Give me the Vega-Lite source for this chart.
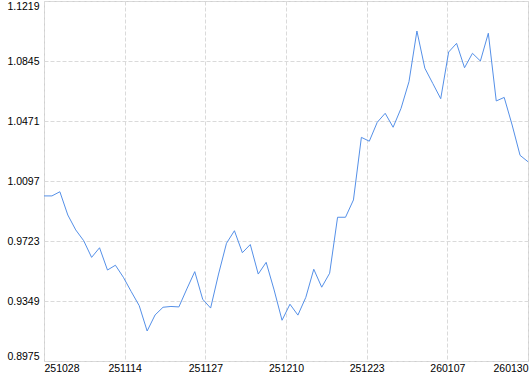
{
  "$schema": "https://vega.github.io/schema/vega-lite/v6.json",
  "autosize": {"type": "none"},
  "padding": {"left": 44, "top": 1, "right": 2, "bottom": 13},
  "width": 484,
  "height": 360,
  "background": "white",
  "config": {
    "view": {"stroke": "#cfcfcf", "strokeWidth": 1},
    "axis": {
      "labelFont": "Liberation Sans",
      "labelFontSize": 10.5,
      "labelColor": "#000000",
      "domain": false,
      "ticks": false,
      "grid": true,
      "gridColor": "#dadada",
      "gridDash": [4, 2],
      "gridWidth": 1,
      "title": null
    }
  },
  "data": {
    "values": [
      {"n": 0, "date": "251028", "v": 1.0004},
      {"n": 1, "date": "251029", "v": 1.0004},
      {"n": 2, "date": "251030", "v": 1.0030},
      {"n": 3, "date": "251031", "v": 0.9885},
      {"n": 4, "date": "251103", "v": 0.9792},
      {"n": 5, "date": "251104", "v": 0.9725},
      {"n": 6, "date": "251105", "v": 0.9621},
      {"n": 7, "date": "251106", "v": 0.9681},
      {"n": 8, "date": "251107", "v": 0.9542},
      {"n": 9, "date": "251110", "v": 0.9572},
      {"n": 10, "date": "251112", "v": 0.9497},
      {"n": 11, "date": "251114", "v": 0.9407},
      {"n": 12, "date": "251117", "v": 0.9320},
      {"n": 13, "date": "251118", "v": 0.9162},
      {"n": 14, "date": "251119", "v": 0.9262},
      {"n": 15, "date": "251120", "v": 0.9310},
      {"n": 16, "date": "251121", "v": 0.9315},
      {"n": 17, "date": "251124", "v": 0.9312},
      {"n": 18, "date": "251125", "v": 0.9424},
      {"n": 19, "date": "251126", "v": 0.9532},
      {"n": 20, "date": "251127", "v": 0.9360},
      {"n": 21, "date": "251128", "v": 0.9305},
      {"n": 22, "date": "251201", "v": 0.9517},
      {"n": 23, "date": "251202", "v": 0.9709},
      {"n": 24, "date": "251203", "v": 0.9787},
      {"n": 25, "date": "251204", "v": 0.9650},
      {"n": 26, "date": "251205", "v": 0.9701},
      {"n": 27, "date": "251208", "v": 0.9517},
      {"n": 28, "date": "251209", "v": 0.9590},
      {"n": 29, "date": "251210", "v": 0.9418},
      {"n": 30, "date": "251211", "v": 0.9229},
      {"n": 31, "date": "251212", "v": 0.9329},
      {"n": 32, "date": "251215", "v": 0.9261},
      {"n": 33, "date": "251216", "v": 0.9372},
      {"n": 34, "date": "251217", "v": 0.9547},
      {"n": 35, "date": "251218", "v": 0.9435},
      {"n": 36, "date": "251219", "v": 0.9522},
      {"n": 37, "date": "251222", "v": 0.9871},
      {"n": 38, "date": "251223", "v": 0.9871},
      {"n": 39, "date": "251224", "v": 0.9979},
      {"n": 40, "date": "251225", "v": 1.0369},
      {"n": 41, "date": "251226", "v": 1.0345},
      {"n": 42, "date": "251229", "v": 1.0463},
      {"n": 43, "date": "251230", "v": 1.0519},
      {"n": 44, "date": "251231", "v": 1.0432},
      {"n": 45, "date": "260102", "v": 1.0550},
      {"n": 46, "date": "260105", "v": 1.0716},
      {"n": 47, "date": "260106", "v": 1.1032},
      {"n": 48, "date": "260107", "v": 1.0800},
      {"n": 49, "date": "260108", "v": 1.0705},
      {"n": 50, "date": "260109", "v": 1.0610},
      {"n": 51, "date": "260112", "v": 1.0901},
      {"n": 52, "date": "260113", "v": 1.0955},
      {"n": 53, "date": "260114", "v": 1.0803},
      {"n": 54, "date": "260115", "v": 1.0893},
      {"n": 55, "date": "260116", "v": 1.0845},
      {"n": 56, "date": "260119", "v": 1.1018},
      {"n": 57, "date": "260120", "v": 1.0596},
      {"n": 58, "date": "260121", "v": 1.0618},
      {"n": 59, "date": "260123", "v": 1.0446},
      {"n": 60, "date": "260127", "v": 1.0257},
      {"n": 61, "date": "260130", "v": 1.0217}
    ]
  },
  "mark": {"type": "line", "color": "#5590e8", "strokeWidth": 1, "clip": true},
  "encoding": {
    "x": {
      "field": "n",
      "type": "quantitative",
      "scale": {"domain": [0, 61], "nice": false, "zero": false},
      "axis": {
        "values": [0, 10.1667, 20.3333, 30.5, 40.6667, 50.8333, 61],
        "labelExpr": "['251028','251114','251127','251210','251223','260107','260130'][round(datum.value * 6 / 61)]",
        "labelFlush": true,
        "labelPadding": 2,
        "labelOverlap": false
      }
    },
    "y": {
      "field": "v",
      "type": "quantitative",
      "scale": {"domain": [0.8975, 1.1219], "nice": false, "zero": false},
      "axis": {
        "values": [0.8975, 0.9349, 0.9723, 1.0097, 1.0471, 1.0845, 1.1219],
        "format": ".4f",
        "labelFlush": true,
        "labelPadding": 5,
        "labelOverlap": false
      }
    }
  }
}
